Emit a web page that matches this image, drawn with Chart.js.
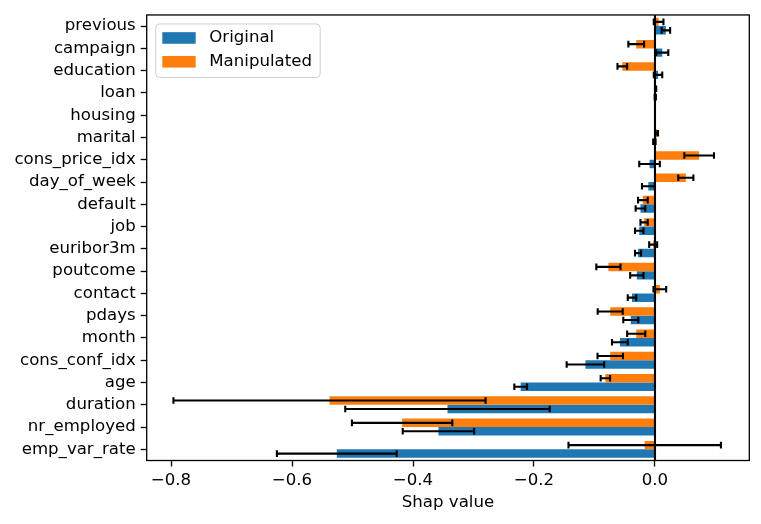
<!DOCTYPE html>
<html>
<head>
<meta charset="utf-8">
<script src="https://cdn.jsdelivr.net/npm/chart.js@4/dist/chart.umd.min.js"></script>
<style>
    html, body { margin: 0; padding: 0; background: #fff; }
    #wrap { width: 761px; height: 524px; position: relative; }
</style>
</head>
<body>
<div id="wrap"><canvas id="shapChart"></canvas></div>
<script>
    'use strict';

    var features = ['previous', 'campaign', 'education', 'loan', 'housing', 'marital',
        'cons_price_idx', 'day_of_week', 'default', 'job', 'euribor3m', 'poutcome',
        'contact', 'pdays', 'month', 'cons_conf_idx', 'age', 'duration',
        'nr_employed', 'emp_var_rate'];

    var originalMean = [0.018, 0.012, 0.005, 0.0005, 0.0, -0.001,
        -0.009, -0.011, -0.024, -0.026, -0.028, -0.030,
        -0.038, -0.040, -0.058, -0.115, -0.222, -0.343,
        -0.358, -0.526];
    var originalErr = [0.007, 0.010, 0.007, 0.001, 0.0, 0.002,
        0.017, 0.0105, 0.008, 0.007, 0.005, 0.011,
        0.007, 0.0124, 0.013, 0.031, 0.0105, 0.169,
        0.059, 0.099];

    var manipulatedMean = [0.006, -0.031, -0.054, 0.001, 0.0, 0.003,
        0.073, 0.051, -0.020, -0.018, -0.003, -0.077,
        0.008, -0.074, -0.031, -0.074, -0.082, -0.538,
        -0.418, -0.017];
    var manipulatedErr = [0.008, 0.013, 0.008, 0.001, 0.0, 0.002,
        0.0245, 0.0125, 0.008, 0.006, 0.0066, 0.020,
        0.0105, 0.0207, 0.015, 0.021, 0.0078, 0.258,
        0.083, 0.126];

    var xTicks = [-0.8, -0.6, -0.4, -0.2, 0.0];

    var FONT = '"DejaVu Sans", sans-serif';
    var BLUE = '#1f77b4';
    var ORANGE = '#ff7f0e';

    // error bars drawn on each bar, using the bar element position
    var errorBarPlugin = {
        id: 'errorBars',
        afterDatasetsDraw: function(chart) {
            var ctx = chart.ctx;
            var xScale = chart.scales.x;
            ctx.save();
            ctx.strokeStyle = '#000';
            ctx.lineWidth = 2.1;
            chart.data.datasets.forEach(function(ds, di) {
                var meta = chart.getDatasetMeta(di);
                meta.data.forEach(function(bar, i) {
                    var err = ds.errors[i];
                    if (!err) return;
                    var v = ds.data[i];
                    var x0 = xScale.getPixelForValue(v - err);
                    var x1 = xScale.getPixelForValue(v + err);
                    var y = bar.y;
                    ctx.beginPath();
                    ctx.moveTo(x0, y);
                    ctx.lineTo(x1, y);
                    ctx.moveTo(x0, y - 3.3);
                    ctx.lineTo(x0, y + 3.3);
                    ctx.moveTo(x1, y - 3.3);
                    ctx.lineTo(x1, y + 3.3);
                    ctx.stroke();
                });
            });

            // zero line
            var zx = xScale.getPixelForValue(0);
            var area = chart.chartArea;
            ctx.lineWidth = 2.1;
            ctx.beginPath();
            ctx.moveTo(zx, area.top);
            ctx.lineTo(zx, area.bottom);
            ctx.stroke();

            // frame
            ctx.lineWidth = 1.3;
            ctx.strokeRect(area.left, area.top, area.right - area.left, area.bottom - area.top);
            ctx.restore();
        }
    };

    // legend box in the upper left, matplotlib style
    var boxLegendPlugin = {
        id: 'boxLegend',
        afterDraw: function(chart) {
            var ctx = chart.ctx;
            var area = chart.chartArea;
            var bx = area.left + 9, by = area.top + 9, bw = 164.5, bh = 53.6, r = 4;
            ctx.save();
            ctx.beginPath();
            ctx.moveTo(bx + r, by);
            ctx.arcTo(bx + bw, by, bx + bw, by + bh, r);
            ctx.arcTo(bx + bw, by + bh, bx, by + bh, r);
            ctx.arcTo(bx, by + bh, bx, by, r);
            ctx.arcTo(bx, by, bx + bw, by, r);
            ctx.closePath();
            ctx.fillStyle = 'rgba(255,255,255,0.8)';
            ctx.fill();
            ctx.strokeStyle = '#d0d0d0';
            ctx.lineWidth = 1;
            ctx.stroke();

            var items = chart.data.datasets.slice().reverse();
            ctx.font = '16.6px ' + FONT;
            ctx.textBaseline = 'middle';
            ctx.textAlign = 'left';
            items.forEach(function(ds, k) {
                var cy = by + 14 + k * 23.8;
                ctx.fillStyle = ds.backgroundColor;
                ctx.fillRect(bx + 6.6, cy - 5.8, 33.4, 11.6);
                ctx.fillStyle = '#000';
                ctx.fillText(ds.label, bx + 53.6, cy);
            });
            ctx.restore();
        }
    };

    var chart = new Chart(document.getElementById('shapChart'), {
        type: 'bar',
        data: {
            labels: features,
            datasets: [{
                label: 'Manipulated',
                data: manipulatedMean,
                errors: manipulatedErr,
                backgroundColor: ORANGE,
                categoryPercentage: 0.76,
                barPercentage: 1.0
            }, {
                label: 'Original',
                data: originalMean,
                errors: originalErr,
                backgroundColor: BLUE,
                categoryPercentage: 0.76,
                barPercentage: 1.0
            }]
        },
        options: {
            indexAxis: 'y',
            responsive: true,
            maintainAspectRatio: false,
            animation: false,
            layout: { padding: { left: 0, right: 11.7, top: 11.7, bottom: 0 } },
            plugins: {
                legend: { display: false },
                tooltip: { enabled: false }
            },
            scales: {
                x: {
                    type: 'linear',
                    min: -0.8402,
                    max: 0.1559,
                    afterBuildTicks: function(scale) {
                        scale.ticks = xTicks.map(function(v) { return { value: v }; });
                    },
                    afterFit: function(scale) { scale.height = 63.5; },
                    border: { display: false },
                    grid: {
                        drawOnChartArea: false,
                        drawTicks: true,
                        tickLength: 6,
                        tickWidth: 1.3,
                        tickColor: '#000'
                    },
                    ticks: {
                        color: '#000',
                        padding: 4,
                        maxRotation: 0,
                        font: { family: FONT, size: 16.6 },
                        callback: function(v) {
                            return (v < 0 ? '\u2212' : '') + Math.abs(v).toFixed(1);
                        }
                    },
                    title: {
                        display: true,
                        text: 'Shap value',
                        color: '#000',
                        padding: { top: 4, bottom: 11 },
                        font: { family: FONT, size: 16.6 }
                    }
                },
                y: {
                    type: 'category',
                    offset: true,
                    afterFit: function(scale) { scale.width = 146.7; },
                    border: { display: false },
                    grid: {
                        offset: false,
                        drawOnChartArea: false,
                        drawTicks: true,
                        tickLength: 6,
                        tickWidth: 1.3,
                        tickColor: '#000'
                    },
                    ticks: {
                        color: '#000',
                        padding: 5,
                        autoSkip: false,
                        font: { family: FONT, size: 16.6 }
                    }
                }
            }
        },
        plugins: [errorBarPlugin, boxLegendPlugin]
    });
</script>
</body>
</html>
